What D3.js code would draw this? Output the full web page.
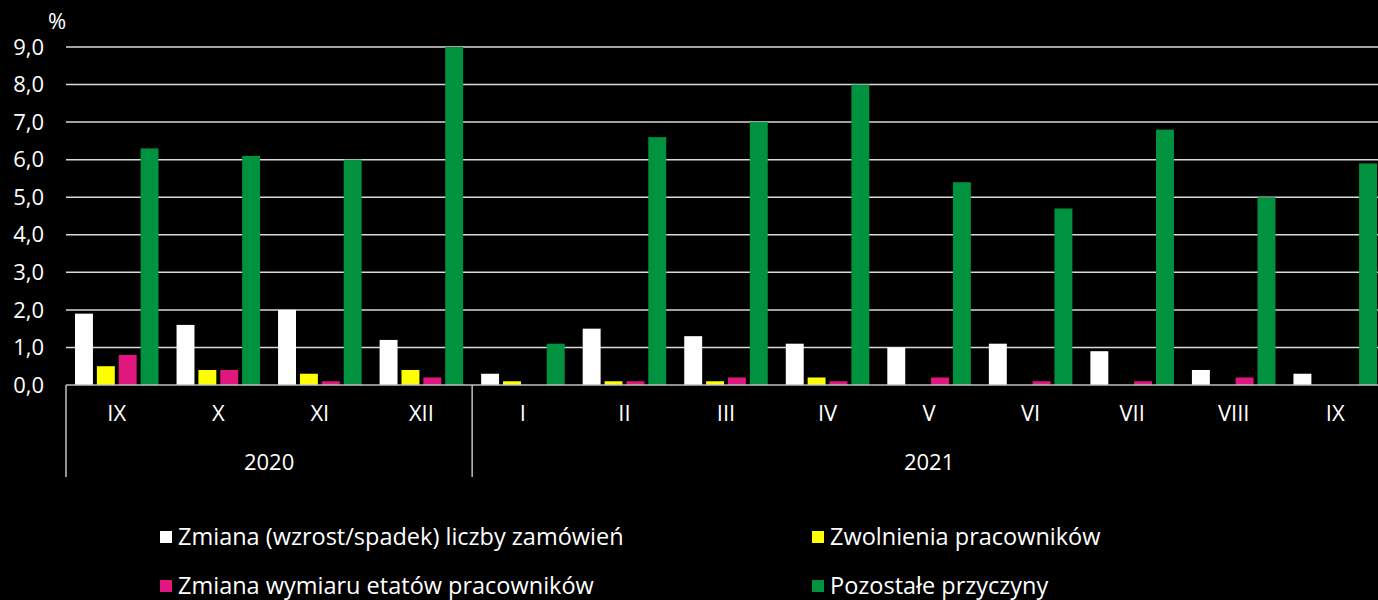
<!DOCTYPE HTML>
<html>
<head>
  <title>Przyczyny zmian</title>
  <script src="https://d3js.org/d3.v7.min.js"></script>
  <style>
    body { margin: 0; background: #000; }
    svg text { fill: #fff; font-family: "Open Sans", sans-serif; }
  </style>
</head>
<body>
  <script>
    var months = ["IX", "X", "XI", "XII", "I", "II", "III", "IV", "V", "VI", "VII", "VIII", "IX"];
    var years = [{ name: "2020", from: 0, to: 4 }, { name: "2021", from: 4, to: 13 }];
    var seriesNames = [
      "Zmiana (wzrost/spadek) liczby zamówień",
      "Zwolnienia pracowników",
      "Zmiana wymiaru etatów pracowników",
      "Pozostałe przyczyny"
    ];
    var colors = ["#ffffff", "#ffff00", "#e0177f", "#00923f"];
    var zamowienia = [1.9, 1.6, 2.0, 1.2, 0.3, 1.5, 1.3, 1.1, 1.0, 1.1, 0.9, 0.4, 0.3];
    var zwolnienia = [0.5, 0.4, 0.3, 0.4, 0.1, 0.1, 0.1, 0.2, 0, 0, 0, 0, 0];
    var etaty = [0.8, 0.4, 0.1, 0.2, 0, 0.1, 0.2, 0.1, 0.2, 0.1, 0.1, 0.2, 0];
    var pozostale = [6.3, 6.1, 6.0, 9.0, 1.1, 6.6, 7.0, 8.0, 5.4, 4.7, 6.8, 5.0, 5.9];
    var yTicks = [0, 1, 2, 3, 4, 5, 6, 7, 8, 9];

    var allSeries = [zamowienia, zwolnienia, etaty, pozostale];
    var width = 1378, height = 600;
    var plotLeft = 66, plotRight = 1386, plotTop = 47, plotBottom = 385;

    var svg = d3.select("body").append("svg")
      .attr("width", width)
      .attr("height", height);

    var x0 = d3.scaleBand()
      .domain(d3.range(months.length))
      .range([plotLeft, plotRight]);

    var x1 = d3.scaleBand()
      .domain(d3.range(seriesNames.length))
      .range([9, x0.bandwidth() - 9])
      .paddingInner(0.18);

    var y = d3.scaleLinear().domain([0, 9]).range([plotBottom, plotTop]);

    // gridlines
    svg.append("g")
      .selectAll("line")
      .data(yTicks.slice(1))
      .enter()
      .append("line")
      .attr("x1", plotLeft)
      .attr("x2", width)
      .attr("y1", function(d) { return y(d); })
      .attr("y2", function(d) { return y(d); })
      .attr("stroke", "#d9d9d9")
      .attr("stroke-width", 1.5);

    // y tick labels
    svg.append("g")
      .selectAll("text")
      .data(yTicks)
      .enter()
      .append("text")
      .attr("x", 44)
      .attr("y", function(d) { return y(d); })
      .attr("dy", "0.35em")
      .attr("text-anchor", "end")
      .style("font-size", "22px")
      .text(function(d) { return d.toFixed(1).replace(".", ","); });

    svg.append("text")
      .attr("x", 57)
      .attr("y", 29)
      .attr("text-anchor", "middle")
      .style("font-size", "22px")
      .text("%");

    // bars
    var group = svg.append("g")
      .selectAll("g")
      .data(allSeries)
      .enter()
      .append("g")
      .attr("fill", function(d, i) { return colors[i]; })
      .attr("transform", function(d, i) { return "translate(" + x1(i) + ",0)"; });

    group.selectAll("rect")
      .data(function(d) { return d; })
      .enter()
      .append("rect")
      .attr("x", function(d, i) { return x0(i); })
      .attr("y", function(d) { return y(d); })
      .attr("width", x1.bandwidth())
      .attr("height", function(d) { return y(0) - y(d); });

    // baseline and category axis
    svg.append("line")
      .attr("x1", plotLeft).attr("x2", width)
      .attr("y1", y(0)).attr("y2", y(0))
      .attr("stroke", "#bfbfbf")
      .attr("stroke-width", 1.5);

    svg.append("g")
      .selectAll("line")
      .data(years)
      .enter()
      .append("line")
      .attr("x1", function(d) { return x0(d.from); })
      .attr("x2", function(d) { return x0(d.from); })
      .attr("y1", y(0))
      .attr("y2", 477)
      .attr("stroke", "#bfbfbf")
      .attr("stroke-width", 1.5);

    svg.append("g")
      .selectAll("text")
      .data(months)
      .enter()
      .append("text")
      .attr("x", function(d, i) { return x0(i) + x0.bandwidth() / 2; })
      .attr("y", 413)
      .attr("dy", "0.35em")
      .attr("text-anchor", "middle")
      .style("font-size", "22px")
      .text(function(d) { return d; });

    svg.append("g")
      .selectAll("text")
      .data(years)
      .enter()
      .append("text")
      .attr("x", function(d) { return (x0(d.from) + x0(d.to - 1) + x0.bandwidth()) / 2; })
      .attr("y", 462)
      .attr("dy", "0.35em")
      .attr("text-anchor", "middle")
      .style("font-size", "22px")
      .text(function(d) { return d.name; });

    // legend
    var legendPos = [[160, 537], [812, 537], [160, 586], [812, 586]];
    var legend = svg.append("g")
      .selectAll("g")
      .data(seriesNames)
      .enter()
      .append("g")
      .attr("transform", function(d, i) { return "translate(" + legendPos[i][0] + "," + legendPos[i][1] + ")"; });

    legend.append("rect")
      .attr("y", -6)
      .attr("width", 12)
      .attr("height", 12)
      .attr("fill", function(d, i) { return colors[i]; });

    legend.append("text")
      .attr("x", 18)
      .attr("dy", "0.35em")
      .style("font-size", "23.5px")
      .text(function(d) { return d; });
  </script>
</body>
</html>
